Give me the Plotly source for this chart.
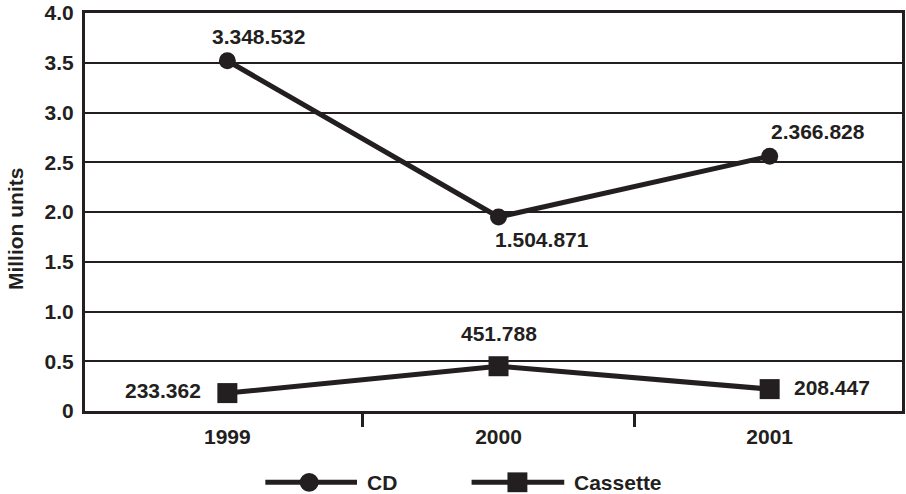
import plotly.graph_objects as go

# ---- data ----
years = ["1999", "2000", "2001"]
cd_values = [3.52, 1.95, 2.56]          # plotted positions (million units)
cassette_values = [0.18, 0.45, 0.22]
cd_labels = ["3.348.532", "1.504.871", "2.366.828"]
cassette_labels = ["233.362", "451.788", "208.447"]
y_ticks = [0, 0.5, 1.0, 1.5, 2.0, 2.5, 3.0, 3.5, 4.0]
y_ticktext = ["0", "0.5", "1.0", "1.5", "2.0", "2.5", "3.0", "3.5", "4.0"]

INK = "#231f20"
FONT = "Liberation Sans"
W, H = 906, 494
L, R, T, B = 85, 1, 9, 83
PW, PH = W - L - R, H - T - B

def px(xp):
    return (xp - L) / PW

def py(yp):
    return (H - B - yp) / PH

xs = list(range(len(years)))

fig = go.Figure()
fig.add_trace(go.Scatter(x=xs, y=cd_values, mode="lines+markers", name="CD",
                         line=dict(color=INK, width=5),
                         marker=dict(symbol="circle", size=17, color=INK),
                         showlegend=False, cliponaxis=False))
fig.add_trace(go.Scatter(x=xs, y=cassette_values, mode="lines+markers", name="Cassette",
                         line=dict(color=INK, width=5),
                         marker=dict(symbol="square", size=20, color=INK),
                         showlegend=False, cliponaxis=False))
# invisible trace to activate overlay axis for boundary ticks
fig.add_trace(go.Scatter(x=[0], y=[0], xaxis="x2", mode="markers",
                         marker=dict(opacity=0), showlegend=False, hoverinfo="skip"))

lab_font = dict(family=FONT, size=21, color=INK, weight="bold")
cd_shift = [(31, 24), (43, -23), (48, 25)]
cas_shift = [(-64, 3), (0, 33), (62, 2)]
for i in xs:
    fig.add_annotation(x=i, y=cd_values[i], text=cd_labels[i], showarrow=False,
                       xshift=cd_shift[i][0], yshift=cd_shift[i][1], font=lab_font)
    fig.add_annotation(x=i, y=cassette_values[i], text=cassette_labels[i], showarrow=False,
                       xshift=cas_shift[i][0], yshift=cas_shift[i][1], font=lab_font)

# y-axis title
fig.add_annotation(xref="paper", yref="paper", x=px(16), y=py(227), text="Million units",
                   textangle=-90, showarrow=False, xanchor="center", yanchor="middle",
                   font=lab_font)

# manual legend
legend_y = py(483)
for x0, x1 in [(266, 358), (473, 566)]:
    fig.add_shape(type="line", xref="paper", yref="paper", x0=px(x0), x1=px(x1),
                  y0=legend_y, y1=legend_y, line=dict(color=INK, width=5))
fig.add_shape(type="circle", xref="paper", yref="paper", x0=px(310 - 9.5), x1=px(310 + 9.5),
              y0=py(483 + 9.5), y1=py(483 - 9.5), fillcolor=INK, line=dict(width=0))
fig.add_shape(type="rect", xref="paper", yref="paper", x0=px(519 - 10), x1=px(519 + 10),
              y0=py(483 + 10), y1=py(483 - 10), fillcolor=INK, line=dict(width=0))
fig.add_annotation(xref="paper", yref="paper", x=px(366), y=legend_y, text="CD",
                   xanchor="left", yanchor="middle", showarrow=False, font=lab_font)
fig.add_annotation(xref="paper", yref="paper", x=px(574), y=legend_y, text="Cassette",
                   xanchor="left", yanchor="middle", showarrow=False, font=lab_font)

xr = [-0.525, 2.488]
fig.update_layout(
    width=W, height=H, margin=dict(l=L, r=R, t=T, b=B),
    paper_bgcolor="white", plot_bgcolor="white",
    font=dict(family=FONT, color=INK),
    xaxis=dict(range=xr, tickvals=xs, ticktext=years, ticks="outside", ticklen=5,
               tickcolor="rgba(0,0,0,0)", tickfont=lab_font, showgrid=False, zeroline=False,
               showline=True, linecolor=INK, linewidth=3, mirror=True),
    xaxis2=dict(range=xr, overlaying="x", anchor="y", side="bottom", tickvals=[0.5, 1.5],
                ticks="outside", ticklen=15, tickwidth=3, tickcolor=INK,
                showticklabels=False, showgrid=False, zeroline=False, showline=False),
    yaxis=dict(range=[0, 4.0], tickvals=y_ticks, ticktext=y_ticktext, ticks="outside",
               ticklen=4, tickcolor="rgba(0,0,0,0)", tickfont=lab_font,
               ticklabeloverflow="allow",
               showgrid=True, gridcolor=INK, gridwidth=1.5, zeroline=False,
               showline=True, linecolor=INK, linewidth=3, mirror=True),
)

fig.write_html("out.html")
